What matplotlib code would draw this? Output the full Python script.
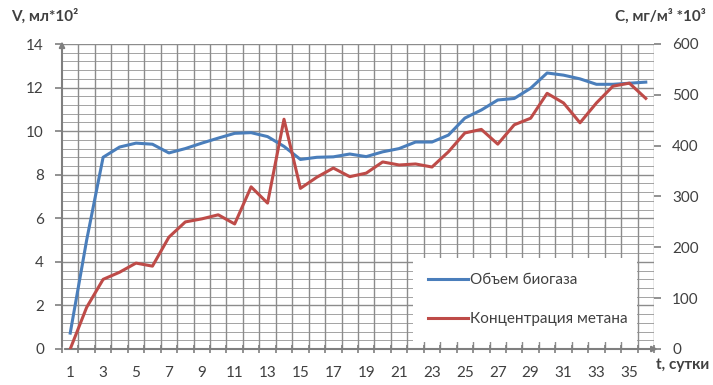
import matplotlib
matplotlib.use("Agg")
import matplotlib.pyplot as plt
import numpy as np

days = list(range(1, 37))
volume = [0.73, 5.0, 8.8, 9.27, 9.45, 9.4, 9.0, 9.2, 9.45, 9.68, 9.9, 9.93,
          9.75, 9.3, 8.7, 8.8, 8.82, 8.95, 8.83, 9.05, 9.2, 9.5, 9.5, 9.82,
          10.6, 10.97, 11.43, 11.5, 11.97, 12.67, 12.57, 12.4, 12.15, 12.15, 12.2, 12.25]
methane = [0, 82, 137, 151, 169, 163, 220, 250, 256, 264, 246, 319,
           287, 452, 316, 338, 356, 339, 346, 368, 362, 364, 358, 388,
           425, 432, 403, 441, 454, 503, 484, 445, 484, 517, 523, 493]
xtick_labels = [str(d) for d in range(1, 36, 2)]
left_ticks = list(range(0, 15, 2))
right_ticks = list(range(0, 601, 100))
series_names = ["Объем биогаза", "Концентрация метана"]

plt.rcParams['font.family'] = ['Lato', 'DejaVu Sans']
txt = '#404040'
grid_c = '#8c8c8c'

fig = plt.figure(figsize=(7.13, 3.85), dpi=100)
ax = fig.add_axes([62/713, 1-349/385, 592/713, 305/385])
ax2 = ax.twinx()

ax.set_xlim(0.5, 36.5)
ax.set_ylim(0, 14)
ax2.set_ylim(0, 600)

# grid
for b in np.arange(1.5, 36.6, 1.0):
    ax.axvline(b, color=grid_c, lw=1.0, zorder=0)
for v in np.arange(0.4, 14.01, 0.4):
    major = abs(v/2 - round(v/2)) < 1e-6
    ax.axhline(v, color=grid_c, lw=1.0 if major else 0.7, alpha=1 if major else 0.8, zorder=0)

l1, = ax.plot(days, volume, color='#4A7EBB', lw=2.2, zorder=3)
l2, = ax2.plot(days, methane, color='#BE4B48', lw=2.2, zorder=3)

for s in ['top', 'right', 'left', 'bottom']:
    ax.spines[s].set_visible(False)
    ax2.spines[s].set_visible(False)

# axes with arrows
ax.annotate('', xy=(0.5, 14.25), xytext=(0.5, 0), xycoords='data',
            arrowprops=dict(arrowstyle='-|>', color='#7f7f7f', lw=1.5,
                            mutation_scale=8), annotation_clip=False)
ax.annotate('', xy=(36.9, 0), xytext=(0.5, 0), xycoords='data',
            arrowprops=dict(arrowstyle='-|>', color='#7f7f7f', lw=1.5,
                            mutation_scale=8), annotation_clip=False)

ax.set_xticks(range(1, 36, 2))
ax.set_xticklabels(xtick_labels)
ax.set_xticks(np.arange(0.5, 36.6, 1.0), minor=True)
ax.tick_params(axis='x', which='major', length=0, pad=12, labelsize=11, labelcolor=txt)
ax.tick_params(axis='x', which='minor', length=6, direction='inout', color='#7f7f7f', width=1.2)

ax.set_yticks(left_ticks)
ax.tick_params(axis='y', which='major', length=5, color='#7f7f7f', width=1.2,
               labelsize=11, labelcolor=txt, pad=8)
ax2.set_yticks(right_ticks)
ax2.tick_params(axis='y', length=5, color='#7f7f7f', width=1.2,
                labelsize=11, labelcolor=txt, pad=8)

fig.text(11/713, 1-16/385, 'V, мл*10²', fontsize=11, fontweight='bold', color=txt, va='center')
fig.text(706/713, 1-16/385, 'C, мг/м³ *10³', fontsize=11, fontweight='bold', color=txt,
         va='center', ha='right')
fig.text(656/713, 1-365/385, 't, сутки', fontsize=11, fontweight='bold', color=txt, va='center')

leg = ax2.legend([l1, l2], series_names, loc='upper left',
                 bbox_to_anchor=((413-62)/592, (349-258)/305, (637-413)/592, 0.0),
                 mode='expand', frameon=True, fancybox=False, fontsize=11,
                 handlelength=2.6, handletextpad=0.1, labelspacing=1.65,
                 borderpad=1.0, borderaxespad=0)
leg.get_frame().set_edgecolor('none')
leg.get_frame().set_facecolor('white')
leg.get_frame().set_alpha(1)
for t in leg.get_texts():
    t.set_color(txt)
for h in leg.get_lines():
    h.set_linewidth(2.2)

fig.savefig('out.png', dpi=100)
